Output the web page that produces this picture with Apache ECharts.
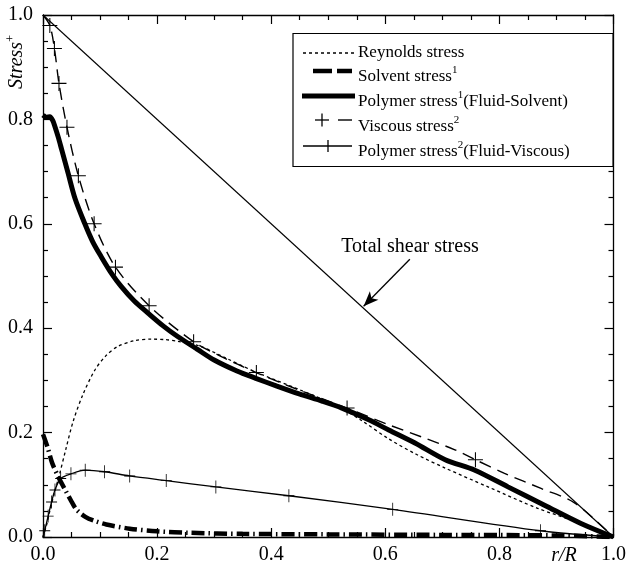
<!DOCTYPE html>
<html><head><meta charset="utf-8">
<script src="https://cdn.jsdelivr.net/npm/echarts@6/dist/echarts.min.js"></script>
<style>html,body{margin:0;padding:0;background:#fff}#c{width:629px;height:568px}</style>
</head><body><div id="c"></div>
<script>
// ---- data ----
const xTicks = [0, 0.2, 0.4, 0.6, 0.8, 1.0];
const yTicks = [0, 0.2, 0.4, 0.6, 0.8, 1.0];

const totalShear = [[0, 1], [1, 0]];

const reynolds = [[0,0],[0.006,0.022],[0.012,0.05],[0.02,0.085],[0.028,0.116],[0.04,0.168],[0.053,0.222],[0.07,0.273],[0.091,0.32],[0.11,0.347],[0.131,0.365],[0.16,0.376],[0.19,0.379],[0.215,0.378],[0.236,0.375],[0.274,0.366],[0.32,0.343],[0.373,0.316],[0.45,0.282],[0.518,0.25],[0.56,0.222],[0.606,0.188],[0.655,0.158],[0.705,0.132],[0.78,0.096],[0.867,0.055],[0.943,0.026],[1,0]];

const solvent = [[0,0.197],[0.008,0.172],[0.016,0.142],[0.027,0.115],[0.04,0.088],[0.05,0.068],[0.059,0.052],[0.075,0.038],[0.09,0.031],[0.111,0.024],[0.152,0.016],[0.2,0.011],[0.26,0.008],[0.35,0.006],[0.5,0.005],[0.7,0.004],[0.9,0.003],[1,0]];

const polymerFS = [[0,0.808],[0.006,0.804],[0.012,0.805],[0.017,0.798],[0.021,0.786],[0.027,0.765],[0.033,0.741],[0.044,0.697],[0.056,0.649],[0.073,0.601],[0.087,0.566],[0.102,0.537],[0.12,0.505],[0.137,0.48],[0.16,0.452],[0.184,0.429],[0.21,0.405],[0.236,0.384],[0.27,0.36],[0.3,0.339],[0.34,0.318],[0.373,0.304],[0.41,0.289],[0.449,0.274],[0.49,0.26],[0.524,0.247],[0.57,0.225],[0.606,0.205],[0.652,0.18],[0.705,0.148],[0.757,0.128],[0.815,0.096],[0.879,0.061],[0.943,0.026],[1,0]];

// viscous stress: points carrying a "+" marker, and plain curve points
const viscousMarks = [[0.012,0.98],[0.02,0.936],[0.028,0.869],[0.042,0.785],[0.062,0.692],[0.0896,0.6],[0.127,0.517],[0.186,0.443],[0.264,0.374],[0.374,0.315],[0.533,0.247],[0.758,0.148]];
const viscousCurve = [[0,1],[0.31,0.347],[0.45,0.281],[0.606,0.215],[0.663,0.192],[0.722,0.167],[0.809,0.122],[0.873,0.093],[0.931,0.066],[1,0]];

// polymer stress 2 (fluid-viscous)
const polymerFVMarks = [[0.003,0.012],[0.009,0.04],[0.015,0.067],[0.021,0.09],[0.031,0.112],[0.049,0.121],[0.074,0.128],[0.108,0.125],[0.152,0.117],[0.216,0.108],[0.303,0.096],[0.431,0.079],[0.613,0.053],[0.872,0.012]];
const polymerFVCurve = [[0,0],[1,0]];

// annotation arrow (data coords): from label to the total-shear line
const arrowFrom = [0.643, 0.532];
const arrowTo = [0.562, 0.442];

// ---- chart ----
const FONT = "'Liberation Serif','Times New Roman',serif";
const PLUS = 'path://M0,9.3H20V10.7H0Z M9.3,0H10.7V20H9.3Z';

function merged(marks, curve) {
  const items = marks.map(p => ({ value: p, m: true })).concat(curve.map(p => ({ value: p, m: false })));
  items.sort((a, b) => a.value[0] - b.value[0]);
  return items.map(it => it.m ? { value: it.value } : { value: it.value, symbol: 'none' });
}

const axisCommon = {
  type: 'value', min: 0, max: 1, interval: 0.2,
  axisLine: { show: true, onZero: false, lineStyle: { color: '#000', width: 1.3 } },
  axisTick: { show: true, inside: true, length: 9, lineStyle: { color: '#000', width: 1.2 } },
  minorTick: { show: true, splitNumber: 4, length: 5, lineStyle: { color: '#000', width: 1.2 } },
  splitLine: { show: false }, minorSplitLine: { show: false }
};
const labelStyle = { color: '#000', fontFamily: FONT, fontSize: 20, formatter: v => v.toFixed(1) };

const chart = echarts.init(document.getElementById('c'), null, { renderer: 'canvas' });
chart.setOption({
  animation: false,
  backgroundColor: '#fff',
  grid: { left: 43, right: 12.5, top: 15, bottom: 31, containLabel: false },
  xAxis: [
    Object.assign({}, axisCommon, { position: 'bottom', axisLabel: Object.assign({ margin: 8 }, labelStyle) }),
    Object.assign({}, axisCommon, { position: 'top', axisLabel: { show: false } })
  ],
  yAxis: [
    Object.assign({}, axisCommon, { position: 'left', axisLabel: Object.assign({ margin: 10 }, labelStyle) }),
    Object.assign({}, axisCommon, { position: 'right', axisLabel: { show: false } })
  ],
  series: [
    { name: 'Total shear stress', type: 'line', data: totalShear, showSymbol: false, symbol: 'none',
      lineStyle: { color: '#000', width: 1.1 },
      markLine: { silent: true, symbol: ['none', 'arrow'], symbolSize: [9, 15],
        lineStyle: { color: '#000', width: 1.3, type: 'solid' }, label: { show: false },
        data: [[{ coord: arrowFrom }, { coord: arrowTo }]] } },
    { name: 'Reynolds stress', type: 'line', data: reynolds, symbol: 'none', smooth: 0.3,
      lineStyle: { color: '#000', width: 1.3, type: [3, 3] } },
    { name: 'Solvent stress1', type: 'line', data: solvent, symbol: 'none', smooth: 0.3,
      lineStyle: { color: '#000', width: 4.5, type: [13, 4, 1.5, 4], cap: 'butt' } },
    { name: 'Polymer stress1(Fluid-Solvent)', type: 'line', data: polymerFS, symbol: 'none', smooth: 0.3,
      lineStyle: { color: '#000', width: 5 } },
    { name: 'Viscous stress2', type: 'line', data: merged(viscousMarks, viscousCurve), smooth: 0.3,
      symbol: PLUS, symbolSize: [15, 15], itemStyle: { color: '#000' },
      lineStyle: { color: '#000', width: 1.4, type: [12, 7] } },
    { name: 'Polymer stress2(Fluid-Viscous)', type: 'line', data: merged(polymerFVMarks, polymerFVCurve), smooth: 0.3,
      symbol: PLUS, symbolSize: [11, 13], itemStyle: { color: '#000' },
      lineStyle: { color: '#000', width: 1.3 } }
  ],
  graphic: [
    // legend box
    { type: 'rect', shape: { x: 293, y: 33.5, width: 320, height: 133 }, style: { fill: '#fff', stroke: '#000', lineWidth: 1.2 }, z: 100 },
    { type: 'line', shape: { x1: 303, y1: 53, x2: 355, y2: 53 }, style: { stroke: '#000', lineWidth: 1.3, lineDash: [3, 3] }, z: 101 },
    { type: 'line', shape: { x1: 313, y1: 71, x2: 352, y2: 71 }, style: { stroke: '#000', lineWidth: 4.5, lineDash: [19, 5] }, z: 101 },
    { type: 'line', shape: { x1: 302, y1: 96, x2: 355, y2: 96 }, style: { stroke: '#000', lineWidth: 5 }, z: 101 },
    { type: 'line', shape: { x1: 315, y1: 120, x2: 329, y2: 120 }, style: { stroke: '#000', lineWidth: 1.3 }, z: 101 },
    { type: 'line', shape: { x1: 322, y1: 113.5, x2: 322, y2: 126.5 }, style: { stroke: '#000', lineWidth: 1.3 }, z: 101 },
    { type: 'line', shape: { x1: 338, y1: 120, x2: 352, y2: 120 }, style: { stroke: '#000', lineWidth: 1.4 }, z: 101 },
    { type: 'line', shape: { x1: 303, y1: 146, x2: 352, y2: 146 }, style: { stroke: '#000', lineWidth: 1.3 }, z: 101 },
    { type: 'line', shape: { x1: 328, y1: 140, x2: 328, y2: 152 }, style: { stroke: '#000', lineWidth: 1.3 }, z: 101 },
    ...[
      ['Reynolds stress', 52.5],
      ['Solvent stress{sup|1}', 76.5],
      ['Polymer stress{sup|1}(Fluid-Solvent)', 101.5],
      ['Viscous stress{sup|2}', 127],
      ['Polymer stress{sup|2}(Fluid-Viscous)', 151.5]
    ].map(([t, y]) => ({ type: 'text', x: 358, y: y, z: 101,
      style: { text: t, fill: '#000', font: '17px ' + FONT, lineHeight: 24, textAlign: 'left', textVerticalAlign: 'middle',
        rich: { sup: { fontSize: 11, fontFamily: FONT, lineHeight: 7, verticalAlign: 'top', fill: '#000' } } } })),
    // y axis name
    { type: 'text', x: 17, y: 62, rotation: Math.PI / 2, z: 101,
      style: { text: 'Stress{sup|+}', fill: '#000', font: 'italic 20px ' + FONT, lineHeight: 24, textAlign: 'center', textVerticalAlign: 'middle',
        rich: { sup: { fontSize: 12, fontFamily: FONT, fontStyle: 'normal', lineHeight: 7, verticalAlign: 'top', fill: '#000' } } } },
    // x axis name
    { type: 'text', x: 564, y: 556, z: 101,
      style: { text: 'r/R', fill: '#000', font: 'italic 20px ' + FONT, textAlign: 'center', textVerticalAlign: 'middle' } },
    // annotation
    { type: 'text', x: 410, y: 247, z: 101,
      style: { text: 'Total shear stress', fill: '#000', font: '20px ' + FONT, textAlign: 'center', textVerticalAlign: 'middle' } }
  ]
});
</script>
</body></html>
